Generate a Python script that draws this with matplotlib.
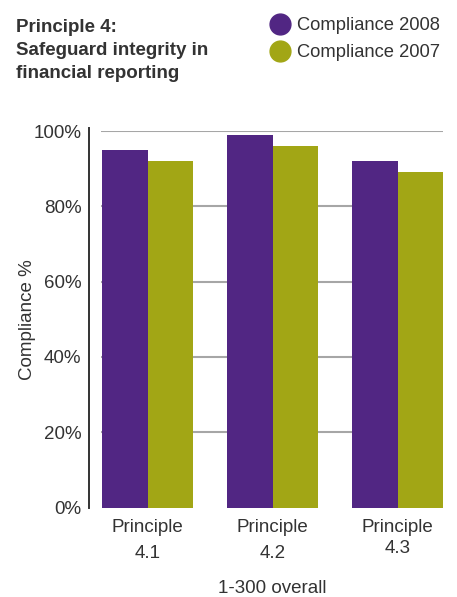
import matplotlib.pyplot as plt
from matplotlib.lines import Line2D
import numpy as np

plt.rcParams["font.family"] = ["Liberation Sans", "DejaVu Sans"]

categories = ["Principle\n4.1", "Principle\n4.2", "Principle\n4.3"]
compliance_2008 = [95, 99, 92]
compliance_2007 = [92, 96, 89]
y_ticks = [0, 20, 40, 60, 80, 100]
series_labels = ["Compliance 2008", "Compliance 2007"]

PURPLE = "#512683"
OLIVE = "#a2a615"
TEXT = "#333333"

W, H = 457, 597
fig = plt.figure(figsize=(W / 100, H / 100), dpi=100)
ax = fig.add_axes([101 / W, 1 - 507.5 / H, (443 - 101) / W, (507.5 - 131) / H])

x = np.arange(len(categories))
bw = 0.364
ax.bar(x - bw / 2, compliance_2008, bw, color=PURPLE, zorder=3)
ax.bar(x + bw / 2, compliance_2007, bw, color=OLIVE, zorder=3)

ax.set_xlim(-0.372, 2.364)
ax.set_ylim(0, 100)
ax.set_yticks(y_ticks)
ax.set_yticklabels([f"{v}%" for v in y_ticks])
ax.set_xticks(x)
ax.set_xticklabels(categories)

# grid lines only, no baseline at zero
for v in y_ticks[1:]:
    ax.axhline(v, color="#a6a6a6", linewidth=1.5, zorder=1)

for side in ["top", "right", "bottom"]:
    ax.spines[side].set_visible(False)
ax.spines["left"].set_position(("outward", 8.6))
ax.spines["left"].set_color("#333333")
ax.spines["left"].set_linewidth(1.4)
ax.spines["left"].set_bounds(0, 100.8)

ax.tick_params(axis="y", length=0, pad=5.5, labelsize=13.5, labelcolor=TEXT)
ax.tick_params(axis="x", length=0, pad=8, labelsize=13.5, labelcolor=TEXT)
for i, lbl in enumerate(ax.get_xticklabels()):
    lbl.set_linespacing(1.7 if i < 2 else 1.3)

ax.set_ylabel("Compliance %", fontsize=13.5, color=TEXT, labelpad=-2)
ax.set_xlabel("1-300 overall", fontsize=13.5, color=TEXT, labelpad=13)

fig.text(16 / W, 1 - 19 / H, "Principle 4:\nSafeguard integrity in\nfinancial reporting",
         fontsize=13.5, fontweight="bold", color=TEXT, va="top", ha="left", linespacing=1.45)

handles = [Line2D([], [], linestyle="none", marker="o", markersize=15, color=c)
           for c in (PURPLE, OLIVE)]
fig.legend(handles, series_labels, loc="upper left", bbox_to_anchor=(262 / W, 1 - 10 / H),
           frameon=False, fontsize=13.2, handletextpad=0.3, labelspacing=0.55,
           handlelength=1.2, borderaxespad=0, labelcolor=TEXT)

fig.savefig("out.png", dpi=100)
